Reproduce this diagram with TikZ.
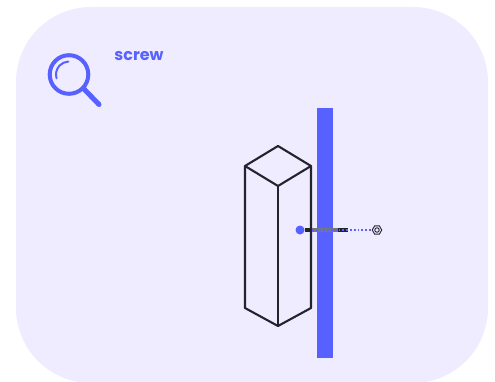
\documentclass[tikz,border=0pt]{standalone}
\usepackage{fontspec}
\setmainfont{Poppins}
\usetikzlibrary{shapes.geometric}
\definecolor{panelfill}{HTML}{EFECFF}
\definecolor{screwblue}{HTML}{5661FF}
\definecolor{boxline}{HTML}{23232E}
\definecolor{shaftgray}{HTML}{77777F}
\tikzset{
    boxedge/.style={draw=boxline, line width=2.1pt, line join=round},
    nutpart/.style={draw=boxline, line width=0.9pt, inner sep=0pt},
}
\begin{document}
\begin{tikzpicture}[x=1pt,y=1pt]
    \useasboundingbox (0,0) rectangle (495,381);
    \fill[panelfill, rounded corners=75pt] (16,-2) rectangle (488,374);
    % magnifier
    \draw[screwblue, line width=4pt] (69,306.5) circle (19.3);
    \draw[screwblue, line width=2pt, line cap=round] (69,306.5) ++(197:13) arc (197:93:13);
    \draw[screwblue, line width=5pt, line cap=round] (84,292) -- (99,276.5);
    \node[text=screwblue, font=\bfseries\fontsize{16}{16}\selectfont, inner sep=0pt] (title) at (139,324.5) {screw};
    % wall
    \fill[screwblue] (317,23) rectangle (333,273);
    % post
    \coordinate (top) at (278,235);
    \coordinate (left) at (245,215);
    \coordinate (right) at (311,215);
    \coordinate (front) at (278,195);
    \coordinate (botleft) at (245,73);
    \coordinate (botfront) at (278,55);
    \coordinate (botright) at (311,73);
    \draw[boxedge] (top) -- (right) -- (front) -- (left) -- cycle;
    \draw[boxedge] (left) -- (botleft) -- (botfront) -- (botright) -- (right);
    \draw[boxedge] (front) -- (botfront);
    % screw
    \node[circle, fill=screwblue, minimum size=9pt, inner sep=0pt] (head) at (300,151) {};
    \node[regular polygon, regular polygon sides=6, nutpart, minimum size=9.5pt] (nut) at (377,151) {};
    \node[circle, nutpart, minimum size=4.5pt] (nuthole) at (nut) {};
    \coordinate (tip) at (348,151);
    \coordinate (shaftin) at (312,151);
    \coordinate (threads) at (338,151);
    \draw[shaftgray, line width=3.5pt] (head) -- (tip);
    \draw[boxline, line width=3.5pt] (head) -- (shaftin);
    \draw[boxline, line width=3.5pt] (threads) -- (tip);
    \draw[screwblue, line width=1.8pt, dotted] (shaftin) -- (nut);
\end{tikzpicture}
\end{document}
